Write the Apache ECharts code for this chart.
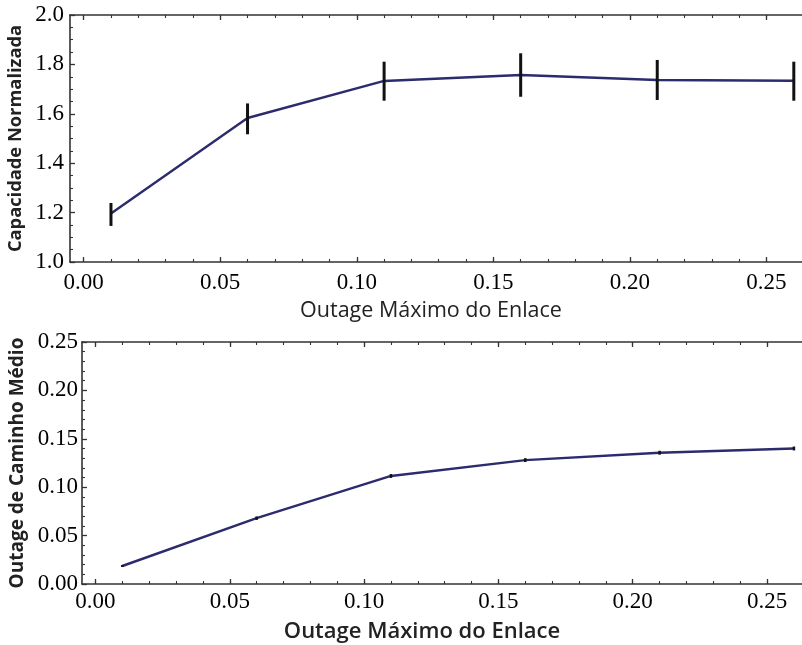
<!DOCTYPE html>
<html>
<head>
<meta charset="utf-8">
<script src="https://cdn.jsdelivr.net/npm/echarts@6/dist/echarts.min.js"></script>
<style>html,body{margin:0;padding:0;background:#fff}#c{width:802px;height:645px}</style>
</head>
<body>
<div id="c"></div>
<script>
// ---- data ----
var outageMax = [0.01, 0.06, 0.11, 0.16, 0.21, 0.26];
var capacidade = [1.196, 1.583, 1.733, 1.757, 1.737, 1.734];
var capLow = [1.146, 1.517, 1.653, 1.669, 1.656, 1.653];
var capHigh = [1.239, 1.642, 1.811, 1.845, 1.818, 1.811];
var outageCaminho = [0.0186, 0.068, 0.1116, 0.128, 0.1356, 0.140];
var caminhoErr = [0.001, 0.0018, 0.002, 0.002, 0.002, 0.002];
var xMajorTicks = [0, 0.05, 0.10, 0.15, 0.20, 0.25];
var xMinorTicks = [0, 0.01, 0.02, 0.03, 0.04, 0.05, 0.06, 0.07, 0.08, 0.09, 0.10, 0.11, 0.12, 0.13, 0.14, 0.15, 0.16, 0.17, 0.18, 0.19, 0.20, 0.21, 0.22, 0.23, 0.24, 0.25];
var xTitle = 'Outage Máximo do Enlace';
var yTitleTop = 'Capacidade Normalizada';
var yTitleBottom = 'Outage de Caminho Médio';

var chart = echarts.init(document.getElementById('c'));
var serif = "'Liberation Serif', 'DejaVu Serif', serif";
var sans = "'Open Sans', sans-serif";
var axisColor = '#333';
var lineColor = '#2b2b6e';
var labelSize = 23;

function xAxes(gridIndex, name, nameGap, nameSize, nameWeight, namePad, labelMargin) {
  var base = {
    type: 'value', gridIndex: gridIndex, min: -0.005, max: 0.263,
    splitLine: {show: false}
  };
  return [
    Object.assign({}, base, {
      position: 'bottom',
      name: name, nameLocation: 'middle', nameGap: nameGap,
      nameTextStyle: {fontFamily: sans, fontSize: nameSize, fontWeight: nameWeight, color: '#222', padding: namePad},
      axisLine: {show: true, onZero: false, lineStyle: {color: axisColor, width: 1.6}},
      axisTick: {show: true, inside: true, length: 5, customValues: xMajorTicks, lineStyle: {color: axisColor, width: 1.3}},
      axisLabel: {show: true, customValues: xMajorTicks, fontFamily: serif, fontSize: labelSize, color: '#000', margin: labelMargin,
        formatter: function (v) { return v.toFixed(2); }}
    }),
    Object.assign({}, base, {
      position: 'bottom',
      axisLine: {show: false, onZero: false},
      axisTick: {show: true, inside: true, length: 3, customValues: xMinorTicks, lineStyle: {color: axisColor, width: 1.1}},
      axisLabel: {show: false}
    }),
    Object.assign({}, base, {
      position: 'top',
      axisLine: {show: true, onZero: false, lineStyle: {color: axisColor, width: 1.6}},
      axisTick: {show: true, inside: true, length: 5, customValues: xMajorTicks, lineStyle: {color: axisColor, width: 1.3}},
      axisLabel: {show: false}
    }),
    Object.assign({}, base, {
      position: 'top',
      axisLine: {show: false, onZero: false},
      axisTick: {show: true, inside: true, length: 3, customValues: xMinorTicks, lineStyle: {color: axisColor, width: 1.1}},
      axisLabel: {show: false}
    })
  ];
}

function errRender(width) {
  return function (params, api) {
    var x = api.value(0);
    var p1 = api.coord([x, api.value(1)]);
    var p2 = api.coord([x, api.value(2)]);
    return {
      type: 'line',
      shape: {x1: p1[0], y1: p1[1], x2: p2[0], y2: p2[1]},
      style: {stroke: '#111', lineWidth: width}
    };
  };
}

var topErr = outageMax.map(function (x, i) { return [x, capLow[i], capHigh[i]]; });
var botErr = outageMax.map(function (x, i) { return [x, outageCaminho[i] - caminhoErr[i], outageCaminho[i] + caminhoErr[i]]; });

var option = {
  backgroundColor: '#fff',
  animation: false,
  grid: [
    {left: 70, top: 15, right: 0, height: 247, containLabel: false, outerBoundsMode: 'none'},
    {left: 82, top: 342, right: 0, height: 242, containLabel: false, outerBoundsMode: 'none'}
  ],
  xAxis: xAxes(0, xTitle, 38, 21.5, 'normal', [0, 10, 0, 0], 9)
    .concat(xAxes(1, xTitle, 37, 22, 600, [0, 40, 0, 0], 6)),
  yAxis: [
    {
      type: 'value', gridIndex: 0, min: 1, max: 2, interval: 0.2,
      name: yTitleTop, nameLocation: 'middle', nameGap: 37,
      nameTextStyle: {fontFamily: sans, fontSize: 18.3, fontWeight: 'bold', color: '#222'},
      axisLine: {show: true, onZero: false, lineStyle: {color: axisColor, width: 1.6}},
      axisTick: {show: true, inside: true, length: 5, lineStyle: {color: axisColor, width: 1.3}},
      minorTick: {show: true, splitNumber: 4, length: 3, lineStyle: {color: axisColor, width: 1.1}},
      splitLine: {show: false},
      axisLabel: {fontFamily: serif, fontSize: labelSize, color: '#000', margin: 6,
        formatter: function (v) { return v.toFixed(1); }}
    },
    {
      type: 'value', gridIndex: 1, min: 0, max: 0.25, interval: 0.05,
      name: yTitleBottom, nameLocation: 'middle', nameGap: 50,
      nameTextStyle: {fontFamily: sans, fontSize: 19, fontWeight: 'bold', color: '#222'},
      axisLine: {show: true, onZero: false, lineStyle: {color: axisColor, width: 1.6}},
      axisTick: {show: true, inside: true, length: 5, lineStyle: {color: axisColor, width: 1.3}},
      minorTick: {show: true, splitNumber: 5, length: 3, lineStyle: {color: axisColor, width: 1.1}},
      splitLine: {show: false},
      axisLabel: {fontFamily: serif, fontSize: labelSize, color: '#000', margin: 4,
        formatter: function (v) { return v.toFixed(2); }}
    }
  ],
  series: [
    {
      type: 'line', xAxisIndex: 0, yAxisIndex: 0,
      data: outageMax.map(function (x, i) { return [x, capacidade[i]]; }),
      showSymbol: false, symbol: 'none',
      lineStyle: {color: lineColor, width: 2.4}, z: 2
    },
    {
      type: 'custom', xAxisIndex: 0, yAxisIndex: 0,
      data: topErr, renderItem: errRender(3), z: 3
    },
    {
      type: 'line', xAxisIndex: 4, yAxisIndex: 1,
      data: outageMax.map(function (x, i) { return [x, outageCaminho[i]]; }),
      showSymbol: false, symbol: 'none',
      lineStyle: {color: lineColor, width: 2.4}, z: 2
    },
    {
      type: 'custom', xAxisIndex: 4, yAxisIndex: 1,
      data: botErr, renderItem: errRender(2.5), z: 3
    }
  ]
};
chart.setOption(option);
</script>
</body>
</html>
